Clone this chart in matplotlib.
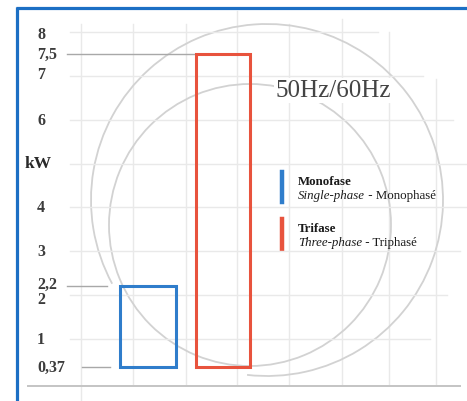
import matplotlib.pyplot as plt
from matplotlib.patches import Arc

W, H = 467, 402
plt.rcParams['font.family'] = ['Liberation Serif', 'DejaVu Serif']

# data
phases = ['Monofase', 'Trifase']
phase_en = ['Single-phase', 'Three-phase']
phase_fr = ['Monophasé', 'Triphasé']
kw_min = [0.37, 0.37]
kw_max = [2.2, 7.5]
tick_vals = [8, 7.5, 7, 6, 5, 4, 3, 2.2, 2, 1, 0.37]
tick_text = ['8', '7,5', '7', '6', 'kW', '4', '3', '2,2', '2', '1', '0,37']
grid_vals = [1, 2, 3, 4, 5, 6, 7, 8]
freq_label = '50Hz/60Hz'

# layout (pixels)
Y0_PX = 384
PX_PER_KW = 43.9
tick_dy = [2, 0, -2, 0, 0, 0, 0, -3, 4, 0, 0]   # small label nudges, px down
bar_x = [148, 223]
bar_w = [56, 54]
bar_colors = ['#2f7dcb', '#e8533d']
grid_end = [430, 447, 460, 467, 467, 453, 423, 378]
vgrid_x = [81, 133, 186, 237, 289, 342, 389, 436]
vgrid_top = [25, 25, 25, 12, 25, 20, 33, 80]
ref_lines = [(7.5, 67, 195), (2.2, 67, 107), (0.37, 82, 110)]
frame_col = '#1c6fc4'
grid_col = '#e9e9e9'
circ_col = '#d2d2d2'

fig = plt.figure(figsize=(W / 100, H / 100), dpi=100)

deco = fig.add_axes([0, 0, 1, 1])
deco.set_xlim(0, W)
deco.set_ylim(H, 0)
deco.axis('off')

ax = fig.add_axes([0, 0, 1, 1], facecolor='none')
ax.set_xlim(0, W)
ax.set_ylim((Y0_PX - H) / PX_PER_KW, Y0_PX / PX_PER_KW)
ax.axis('off')

# vertical grid
for i, (x, top) in enumerate(zip(vgrid_x, vgrid_top)):
    bottom = H if i == 0 else 386
    deco.plot([x, x], [top, bottom], color=grid_col, lw=1.0, zorder=1)

# horizontal grid
for v, xe in zip(grid_vals, grid_end):
    ax.plot([70, xe], [v, v], color=grid_col, lw=1.0, zorder=1)

# decorative circles
deco.add_patch(Arc((250, 226), 282, 282, theta1=0, theta2=360,
                   color=circ_col, lw=1.3, zorder=2))
deco.add_patch(Arc((267, 201), 352, 352, theta1=151.6, theta2=96.5,
                   color=circ_col, lw=1.3, zorder=2))

# bottom line
deco.plot([28, 460], [387, 387], color='#c4c4c4', lw=1.4, zorder=3)

# frame
deco.plot([16, W], [8.5, 8.5], color=frame_col, lw=2.3, solid_capstyle='butt', zorder=5)
deco.plot([16.5, 16.5], [7.5, H], color=frame_col, lw=2.3, solid_capstyle='butt', zorder=5)

# reference lines
for v, x1, x2 in ref_lines:
    ax.plot([x1, x2], [v, v], color='#a8a8a8', lw=1.0, zorder=3)

# bars
heights = [b - a for a, b in zip(kw_min, kw_max)]
ax.bar(bar_x, heights, bottom=kw_min, width=bar_w, fill=False,
       edgecolor=bar_colors, linewidth=2.2, zorder=4)

# tick labels
for v, t, dy in zip(tick_vals, tick_text, tick_dy):
    y = v - dy / PX_PER_KW
    if t == 'kW':
        ax.text(25, y, t, ha='left', va='center', fontsize=12.5,
                fontweight='bold', color='#2a2a2a', zorder=6)
    else:
        ax.text(37, y, t, ha='left', va='center', fontsize=11.5,
                fontweight='bold', color='#3c3c3c', zorder=6)

# frequency label
deco.text(333, 91, freq_label, ha='center', va='center', fontsize=18,
          color='#444444', zorder=6,
          bbox=dict(facecolor='white', edgecolor='none', pad=1))

# legend
leg_y = [182, 229]
for name, en, fr, col, y in zip(phases, phase_en, phase_fr, bar_colors, leg_y):
    deco.plot([282, 282], [y - 9, y + 21], color=col, lw=3.2, zorder=6)
    deco.text(298, y, name, ha='left', va='center', fontsize=9.3,
              fontweight='bold', color='#1a1a1a', zorder=6)
    t = deco.text(298, y + 14, en, ha='left', va='center', fontsize=9.3,
                  style='italic', color='#1a1a1a', zorder=6)
    deco.annotate(' - ' + fr, xy=(1, 0), xycoords=t, ha='left', va='bottom',
                  fontsize=9.3, color='#1a1a1a', zorder=6)

fig.savefig('out.png', dpi=100, facecolor='white')
